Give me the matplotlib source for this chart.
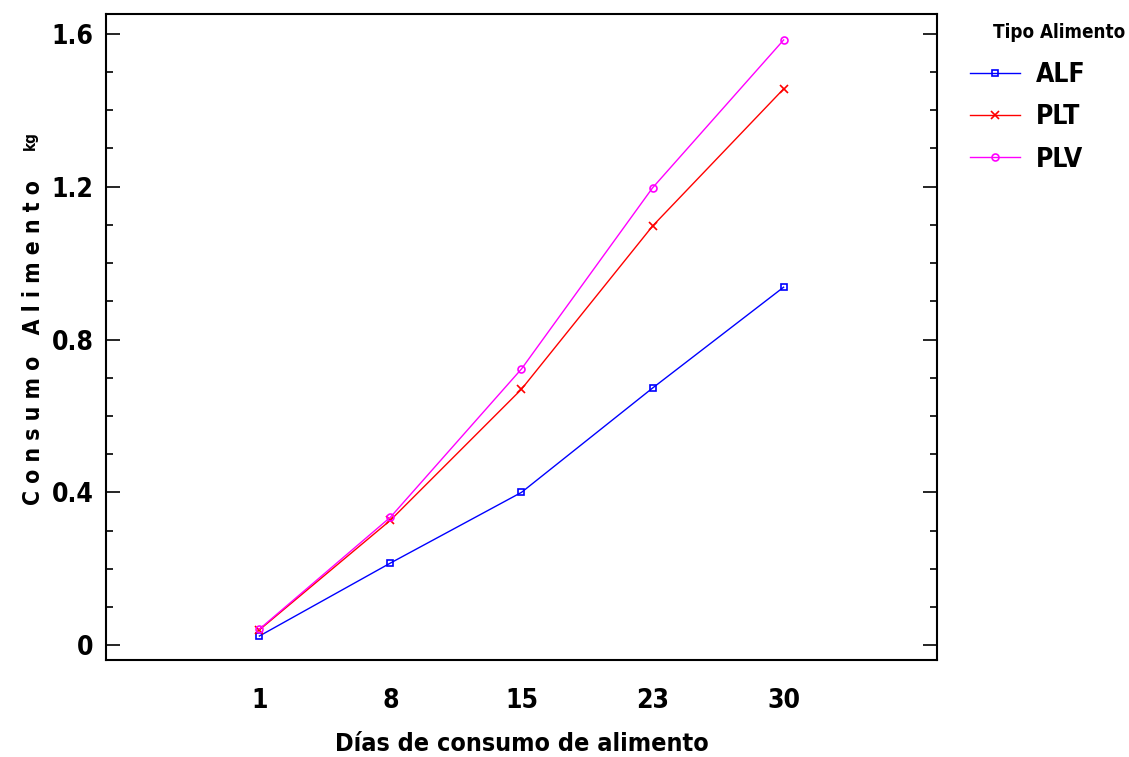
import matplotlib
matplotlib.use('Agg')
import matplotlib.pyplot as plt
from matplotlib.ticker import MultipleLocator

dias = ['1', '8', '15', '23', '30']
alf = [0.024, 0.215, 0.40, 0.673, 0.937]
plt_vals = [0.04, 0.327, 0.67, 1.097, 1.456]
plv = [0.042, 0.335, 0.723, 1.197, 1.584]
series = ['ALF', 'PLT', 'PLV']

plt.rcParams['font.family'] = ['DejaVu Sans']
plt.rcParams['font.stretch'] = 'condensed'

fig = plt.figure(figsize=(11.29, 7.57), dpi=100)
ax = fig.add_axes([0.0939, 0.128, 0.736, 0.8535])

x = list(range(len(dias)))
ax.plot(x, alf, color='#0000ff', lw=1, marker='s', ms=5, mfc='none', mew=1.2, label=series[0])
ax.plot(x, plt_vals, color='#ff0000', lw=1, marker='x', ms=6, mew=1.2, label=series[1])
ax.plot(x, plv, color='#ff00ff', lw=1, marker='o', ms=5, mfc='none', mew=1.2, label=series[2])

ax.set_xlim(-1.17, 5.17)
ax.set_ylim(-0.039, 1.652)
ax.set_xticks(x)
ax.set_xticklabels(dias)
ax.yaxis.set_minor_locator(MultipleLocator(0.1))
ax.set_yticks([0, 0.4, 0.8, 1.2, 1.6])
ax.set_yticklabels(['0', '0.4', '0.8', '1.2', '1.6'])
ax.tick_params(axis='x', length=0, pad=20, labelsize=19)
ax.tick_params(axis='y', which='major', direction='in', length=10, width=1.2,
               right=True, labelsize=19, pad=9)
ax.tick_params(axis='y', which='minor', direction='in', length=5, width=1.2, right=True)
for lab in ax.get_xticklabels() + ax.get_yticklabels():
    lab.set_fontweight('bold')
for s in ax.spines.values():
    s.set_linewidth(1.5)

ax.set_xlabel('Días de consumo de alimento', fontsize=18,
              fontweight='bold', labelpad=13)
fig.text(0.030, 0.548, 'C o n s u m o   A l i m e n t o', rotation=90, fontsize=16.5,
         fontweight='bold', ha='center', va='center')
fig.text(0.027, 0.814, 'kg', rotation=90, fontsize=11, fontweight='bold',
         ha='center', va='center')

fig.text(1059 / 1129, 1 - 33 / 757, 'Tipo Alimento', fontsize=13.5, fontweight='bold',
         ha='center', va='center')
leg = ax.legend(loc='upper left', bbox_to_anchor=(970 / 1129, 1 - 62 / 757),
                bbox_transform=fig.transFigure, frameon=False, fontsize=19,
                borderpad=0, borderaxespad=0, handlelength=1.9, handletextpad=0.6,
                labelspacing=0.62)
for t in leg.get_texts():
    t.set_fontweight('bold')

fig.savefig('out.png', dpi=100, facecolor='white')
